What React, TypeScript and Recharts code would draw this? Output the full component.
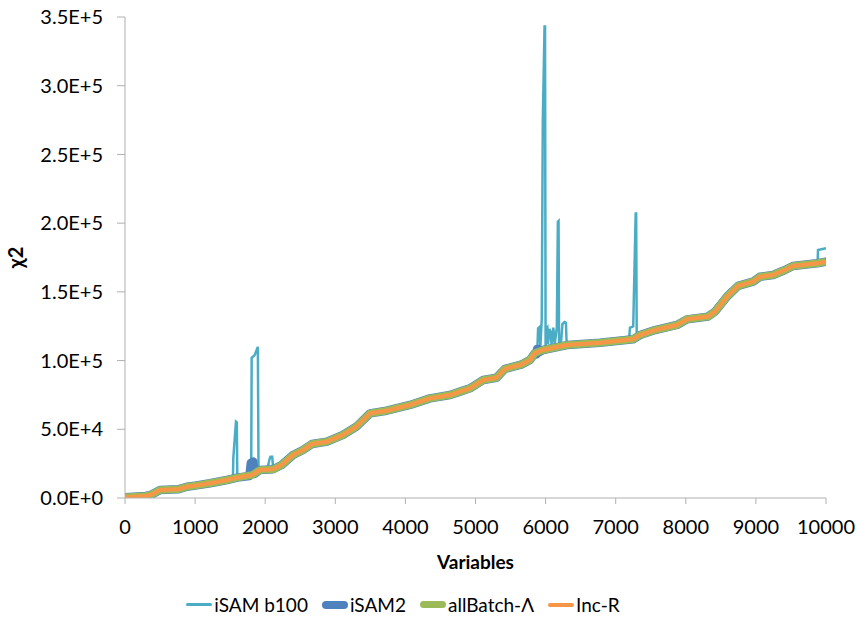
import React from "react";
import { Label, Legend, Line, LineChart, XAxis, YAxis } from "recharts";

// baseline curve shared by allBatch-Λ / Inc-R (and mostly iSAM2)
const baseX = [
  0, 300, 380, 500, 756, 884, 1000, 1213, 1455, 1600, 1812, 1926, 2111, 2235,
  2397, 2539, 2668, 2882, 3110, 3300, 3495, 3733, 4066, 4351, 4636, 4779, 4921,
  5112, 5300, 5420, 5650, 5777, 5849, 5963, 6305, 6776, 7247, 7347, 7561, 7875,
  8017, 8317, 8417, 8588, 8745, 8959, 9058, 9244, 9415, 9529, 9872, 10000,
];
const baseY = [
  500, 1500, 2500, 5800, 6300, 8200, 9000, 10700, 13100, 14800, 16700, 20400,
  20900, 24000, 31300, 34900, 39300, 41000, 45900, 51900, 61600, 63500, 67700,
  72500, 74900, 77400, 79800, 85900, 87500, 94000, 97000, 100400, 105500,
  107700, 111300, 113000, 115500, 118600, 122200, 125900, 130000, 132000,
  135600, 146500, 154300, 157400, 161000, 162300, 165900, 168800, 170800,
  172000,
];

// iSAM b100 excursions above the baseline
const spikeX = [
  [1540, 1545, 1583, 1595, 1602],
  [1800, 1807, 1850, 1895, 1905],
  [2030, 2060, 2075, 2100, 2115],
  [
    5880, 5893, 5915, 5925, 5945, 5960, 5985, 5992, 6000, 6010, 6025, 6035,
    6055, 6070, 6085, 6110, 6130, 6160, 6175, 6185, 6192, 6220, 6240, 6270,
    6290, 6300,
  ],
  [7190, 7204, 7235, 7250, 7285, 7292, 7300],
  [9880, 9886, 10000],
];
const spikeY = [
  [14500, 29000, 55500, 55000, 15000],
  [16500, 102000, 104000, 110000, 18500],
  [20800, 28000, 30000, 30000, 21000],
  [
    104500, 123500, 124500, 110000, 130000, 274000, 343000, 343000, 108000,
    123000, 124000, 112000, 123000, 121000, 112000, 124000, 112000, 124000,
    201000, 201500, 112000, 113000, 126500, 128000, 127500, 112000,
  ],
  [115300, 124000, 124500, 125000, 207000, 207000, 116000],
  [170700, 180500, 181700],
];

// iSAM2 small bumps
const bumpX = [
  [1775, 1795, 1830, 1850],
  [5870, 5880, 5893, 5905],
];
const bumpY = [
  [16000, 25500, 26500, 17500],
  [104500, 108500, 108500, 106000],
];

const xTicks = [0, 1000, 2000, 3000, 4000, 5000, 6000, 7000, 8000, 9000, 10000];
const yTicks = [0, 50000, 100000, 150000, 200000, 250000, 300000, 350000];

type Pt = { x: number; y: number };

function withExtras(xs: number[][], ys: number[][]): Pt[] {
  const extra: Pt[] = [];
  xs.forEach((row, i) => row.forEach((x, j) => extra.push({ x, y: ys[i][j] })));
  const base = baseX
    .map((x, i) => ({ x, y: baseY[i] }))
    .filter((p) => !xs.some((row) => p.x >= row[0] && p.x <= row[row.length - 1]));
  return [...base, ...extra].sort((a, b) => a.x - b.x);
}

const baseData: Pt[] = baseX.map((x, i) => ({ x, y: baseY[i] }));
const isamB100Data = withExtras(spikeX, spikeY);
const isam2Data = withExtras(bumpX, bumpY);

const FONT = "Lato, 'Open Sans', sans-serif";
const AXIS = "#b0b0b0";

const legendItems = [
  { name: "iSAM b100", color: "#4bacc6", h: 3 },
  { name: "iSAM2", color: "#4f81bd", h: 8 },
  { name: "allBatch-Λ", color: "#9bbb59", h: 7 },
  { name: "Inc-R", color: "#f79646", h: 4 },
];

const LegendBox = () => (
  <div
    style={{
      display: "flex",
      justifyContent: "center",
      gap: 14,
      fontFamily: FONT,
      fontSize: 19,
      color: "#000",
      paddingRight: 20,
    }}
  >
    {legendItems.map((it) => (
      <div key={it.name} style={{ display: "flex", alignItems: "center" }}>
        <span
          style={{
            display: "inline-block",
            width: 26,
            height: it.h,
            borderRadius: it.h / 2,
            background: it.color,
            marginRight: 2,
          }}
        />
        <span>{it.name}</span>
      </div>
    ))}
  </div>
);

const fmt = (v: number) => v.toExponential(1).toUpperCase();

export default function App() {
  return (
    <div style={{ position: "absolute", left: 0, top: 0 }}>
      <LineChart
        width={857}
        height={621}
        margin={{ top: 17, right: 31, left: 0, bottom: 4 }}
      >
        <XAxis
          type="number"
          dataKey="x"
          domain={[0, 10000]}
          ticks={xTicks}
          interval={0}
          allowDataOverflow
          stroke={AXIS}
          tickSize={6}
          tickMargin={16}
          height={95}
          tick={{ fill: "#000", fontSize: 20, fontFamily: FONT }}
        >
          <Label
            value="Variables"
            position="insideBottom"
            offset={24}
            style={{ fontWeight: "bold", fontSize: 19, fontFamily: FONT, fill: "#000" }}
          />
        </XAxis>
        <YAxis
          type="number"
          dataKey="y"
          domain={[0, 350000]}
          ticks={yTicks}
          interval={0}
          allowDataOverflow
          width={125}
          stroke={AXIS}
          tickSize={8}
          tickMargin={14}
          tickFormatter={fmt}
          tick={{ fill: "#000", fontSize: 20, fontFamily: FONT }}
        >
          <Label
            value="χ2"
            angle={-90}
            position="center"
            dx={-47}
            style={{ fontWeight: "bold", fontSize: 20, fontFamily: FONT, fill: "#000" }}
          />
        </YAxis>
        <Legend verticalAlign="bottom" height={24} content={<LegendBox />} />
        <Line
          data={isamB100Data}
          dataKey="y"
          name="iSAM b100"
          stroke="#4bacc6"
          strokeWidth={2.5}
          dot={false}
          type="linear"
          isAnimationActive={false}
        />
        <Line
          data={isam2Data}
          dataKey="y"
          name="iSAM2"
          stroke="#4f81bd"
          strokeWidth={8.5}
          strokeLinejoin="round"
          strokeLinecap="round"
          dot={false}
          type="linear"
          isAnimationActive={false}
        />
        <Line
          data={baseData}
          dataKey="y"
          name="allBatch-Λ"
          stroke="#9bbb59"
          strokeWidth={7.5}
          strokeLinejoin="round"
          dot={false}
          type="linear"
          isAnimationActive={false}
        />
        <Line
          data={baseData}
          dataKey="y"
          name="Inc-R"
          stroke="#f79646"
          strokeWidth={4}
          strokeLinejoin="round"
          dot={false}
          type="linear"
          isAnimationActive={false}
        />
      </LineChart>
    </div>
  );
}
